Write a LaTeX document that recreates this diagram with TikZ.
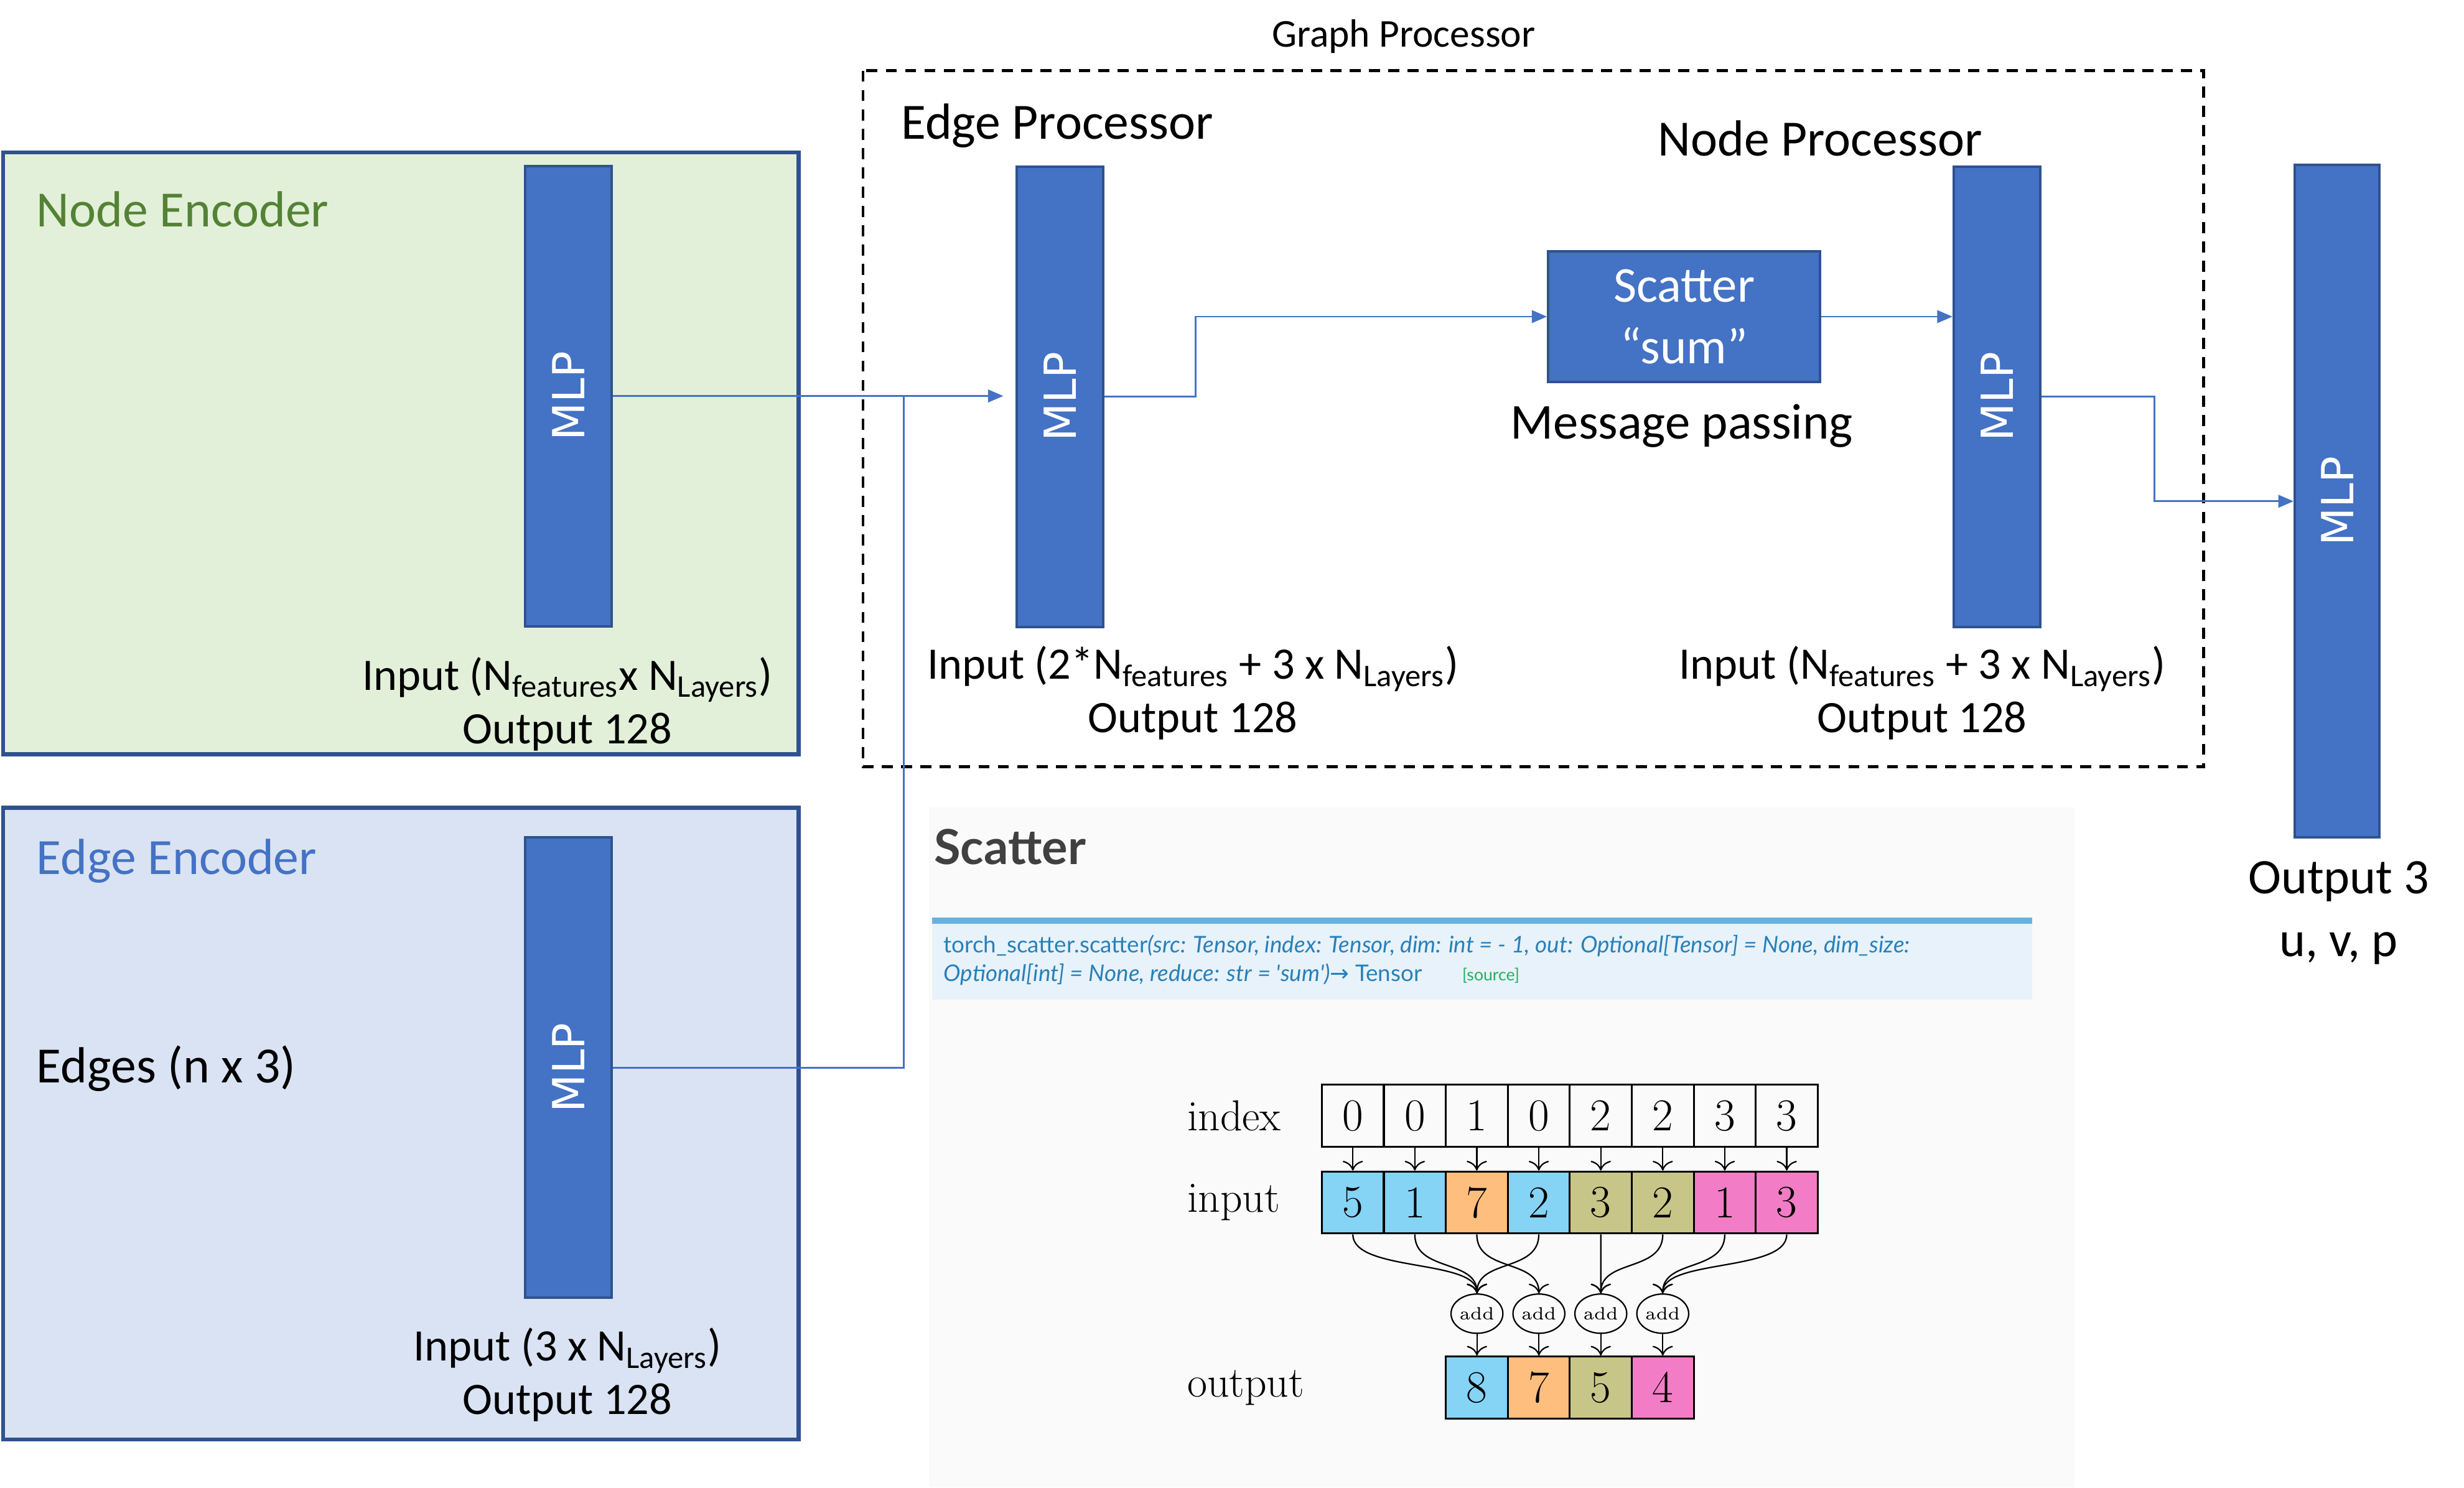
\documentclass[tikz,border=0pt]{standalone}
\usepackage{fontspec}
\usepackage{graphicx}
\setmainfont{Carlito}
\newfontfamily\mlpfont{DejaVu Sans}
\newfontfamily\docfont{Lato}
\newfontfamily\cmfont{Latin Modern Roman}
\usetikzlibrary{calc}
\usetikzlibrary{positioning}
\usetikzlibrary{arrows.meta}
\usetikzlibrary{shapes.geometric}

\definecolor{mlpblue}{HTML}{4472C4}
\definecolor{mlpline}{HTML}{2F528F}
\definecolor{nefill}{HTML}{E2F0D9}
\definecolor{eefill}{HTML}{DAE3F3}
\definecolor{negreen}{HTML}{548235}
\definecolor{docblue}{HTML}{2980B9}
\definecolor{docbar}{HTML}{6AB0DE}
\definecolor{docfill}{HTML}{E7F2FA}
\definecolor{docgreen}{HTML}{27AE60}
\definecolor{doctitle}{HTML}{404040}
\definecolor{cblue}{HTML}{85D3F5}
\definecolor{corange}{HTML}{FDBE7E}
\definecolor{colive}{HTML}{C8C588}
\definecolor{cpink}{HTML}{F27DC6}

\begin{document}
\begin{tikzpicture}[%
  x=0.02cm, y=-0.02cm,
  >={Triangle[length=5.5pt,width=4.6pt]},
  mlp/.style={draw=mlpline, line width=0.9pt, fill=mlpblue, text=white,
    minimum width=1.1cm, minimum height=5.86cm, inner sep=0pt,
    font=\mlpfont\fontsize{16}{18}\selectfont},
  conn/.style={draw=mlpblue, line width=0.6pt},
  encbox/.style={draw=mlpline, line width=1.5pt},
  title/.style={font=\fontsize{18.4}{22}\selectfont, anchor=west, inner sep=0pt},
  info/.style={font=\fontsize{16.3}{19.4}\selectfont, align=center, inner sep=0pt},
  scatterbox/.style={draw=mlpline, line width=0.9pt, fill=mlpblue, text=white,
    minimum width=3.46cm, minimum height=1.66cm, align=center, inner sep=0pt,
    font=\fontsize{18.2}{22.2}\selectfont},
  cmlabel/.style={anchor=west, inner sep=0pt, font=\cmfont\fontsize{15.7}{18}\selectfont},
  cell/.style={draw, line width=0.7pt, minimum width=0.789cm, minimum height=0.79cm,
    inner sep=0pt, font=\cmfont\fontsize{16.5}{18}\selectfont},
  addnode/.style={draw, ellipse, line width=0.5pt, minimum width=0.66cm,
    minimum height=0.5cm, inner sep=0pt, font=\cmfont\fontsize{6.4}{7}\selectfont},
  sarrow/.style={-{To[length=3.5pt]}, line width=0.5pt},
  sig/.style={anchor=west, inner sep=0pt, text=docblue, font=\docfont\fontsize{8.3}{10}\selectfont},
]

  \useasboundingbox (0,0) rectangle (1567.7,946.6);

  % scatter documentation panel
  \fill[black!2] (591,514) rectangle (1320,946.6);
  \fill[docbar] (593,584) rectangle (1293,588);
  \fill[docfill] (593,588) rectangle (1293,636);
  \node[anchor=west, inner sep=0pt, text=doctitle,
    font=\docfont\bfseries\fontsize{17.5}{20}\selectfont] (sctitle) at (594,539) {Scatter};
  \node[sig] (sig1) at (600,602)
    {torch\_scatter.scatter\textit{(src: Tensor, index: Tensor, dim: int = - 1, out: Optional[Tensor] = None, dim\_size:}};
  \node[sig] (sig2) at (600,620)
    {\textit{Optional[int] = None, reduce: str = \textquotesingle sum\textquotesingle)}{\mlpfont →} Tensor};
  \node[anchor=west, inner sep=0pt, text=docgreen,
    font=\docfont\fontsize{6}{7}\selectfont] (src) at (930,621) {[source]};

  \node[cmlabel] (lindex) at (755,710) {index};
  \node[cmlabel] (linput) at (755,765) {input};
  \node[cmlabel] (loutput) at (755,883) {output};

  \foreach \v [count=\k] in {0,0,1,0,2,2,3,3}
    \node[cell] (i\k) at ({841+39.44*(\k-0.5)},710) {\v};
  \foreach \v/\c [count=\k] in {5/cblue,1/cblue,7/corange,2/cblue,3/colive,2/colive,1/cpink,3/cpink}
    \node[cell, fill=\c] (n\k) at ({841+39.44*(\k-0.5)},765.25) {\v};
  \foreach \k in {1,...,8}
    \draw[sarrow] (i\k) -- (n\k);

  \foreach \v/\c [count=\k] in {8/cblue,7/corange,5/colive,4/cpink} {
    \node[addnode] (a\k) at ({920+39.4*(\k-0.5)},836) {add};
    \node[cell, fill=\c] (o\k) at ({920+39.4*(\k-0.5)},883) {\v};
    \draw[sarrow] (a\k) -- (o\k);
  }
  \foreach \s/\t in {1/1,2/1,4/1,3/2,5/3,6/3,7/4,8/4}
    \draw[sarrow] (n\s.south) .. controls +(0,24) and +(0,-22) .. (a\t.north);

  % encoders
  \draw[encbox, fill=nefill] (2,97) rectangle (508,480);
  \draw[encbox, fill=eefill] (2,514) rectangle (508,916);

  \node[title, text=negreen] (netitle) at (23,133) {Node Encoder};
  \node[mlp] (nemlp) at (361.5,252) {\rotatebox{90}{MLP}};
  \node[info] (neinfo) at (361,448) {Input (N\textsubscript{features}x N\textsubscript{Layers})\\Output 128};

  \node[title, text=mlpblue] (eetitle) at (23,548) {Edge Encoder};
  \node[title] (eein) at (23,680) {Edges (n x 3)};
  \node[mlp] (eemlp) at (361.5,679.5) {\rotatebox{90}{MLP}};
  \node[info] (eeinfo) at (361,875) {Input (3 x N\textsubscript{Layers})\\Output 128};

  % graph processor
  \draw[line width=1pt, dash pattern=on 4pt off 3pt] (549,45) rectangle (1402,488);
  \node[font=\fontsize{14.3}{17}\selectfont] (gptitle) at (893,23) {Graph Processor};

  \node[title] (eptitle) at (573,80) {Edge Processor};
  \node[mlp] (epmlp) at (674.5,252.5) {\rotatebox{90}{MLP}};
  \node[info] (epinfo) at (759,441) {Input (2*N\textsubscript{features} + 3 x N\textsubscript{Layers})\\Output 128};

  \node[scatterbox] (scat) at (1071.5,201.5) {Scatter\\“sum”};
  \node[font=\fontsize{18.2}{22}\selectfont, inner sep=0pt] (mp) at (1070,271) {Message passing};

  \node[title, anchor=center] (nptitle) at (1158,88) {Node Processor};
  \node[mlp] (npmlp) at (1270.5,252.5) {\rotatebox{90}{MLP}};
  \node[info] (npinfo) at (1223,441) {Input (N\textsubscript{features} + 3 x N\textsubscript{Layers})\\Output 128};

  \node[mlp, minimum height=8.56cm, minimum width=1.08cm] (outmlp) at (1487,319) {\rotatebox{90}{MLP}};
  \node[info, font=\fontsize{18}{22.8}\selectfont] (outinfo) at (1488,581) {Output 3\\u, v, p};

  \coordinate (join) at (575,252);
  \draw[conn,->,shorten >=4.5pt] (nemlp.east) -- (nemlp.east -| epmlp.west);
  \draw[conn] (eemlp.east) -| (join);
  \draw[conn,->] (epmlp.east) -- ++(58,0) |- (scat.west);
  \draw[conn,->] (scat.east) -- (scat.east -| npmlp.west);
  \draw[conn,->] (npmlp.east) -- ++(72,0) |- (outmlp.west);

\end{tikzpicture}
\end{document}
